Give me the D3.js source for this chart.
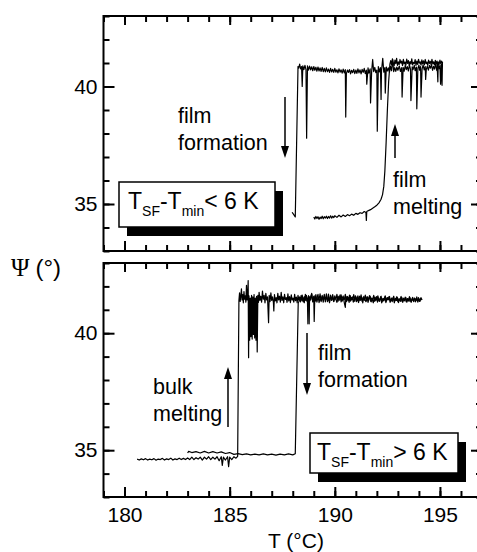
<!DOCTYPE html>
<html>
<head>
<meta charset="utf-8">
<script src="https://cdn.jsdelivr.net/npm/d3@7/dist/d3.min.js"></script>
<style>
body{margin:0;background:#fff;}
svg text{font-family:"Liberation Sans",Arial,sans-serif;fill:#000;}
</style>
</head>
<body>
<svg id="chart" width="477" height="552"></svg>
<script>
// axis values
var tempTicks = [180,185,190,195];
var tempMinor = [179,180,181,182,183,184,185,186,187,188,189,190,191,192,193,194,195,196,197];
var psiTicks = [35,40];
var psiMinor = [33,34,35,36,37,38,39,40,41,42,43];

// T (°C), Psi (°)
// upper panel: cooling run (film formation), from high T down
var topCooling = [
	[195.12,41.05],[195.1,40.05],[195.07,40.95],[195.03,40.1],[195.0,40.9],[194.95,40.75],[194.9,40.92],[194.85,40.68],
	[194.8,40.97],[194.75,40.74],[194.7,40.86],[194.65,40.69],[194.6,40.93],[194.55,40.78],[194.5,40.9],[194.45,40.7],
	[194.4,40.86],[194.35,40.73],[194.32,40.3],[194.3,40.85],[194.25,40.71],[194.2,40.92],[194.15,40.74],[194.1,39.55],
	[194.08,40.85],[194.03,40.69],[194.0,40.91],[193.95,40.77],[193.9,39.05],[193.88,40.83],[193.82,40.67],[193.78,40.9],
	[193.72,40.72],[193.68,40.84],[193.62,39.4],[193.6,40.73],[193.55,40.92],[193.5,40.66],[193.45,40.85],[193.4,40.72],
	[193.35,40.9],[193.3,40.65],[193.25,40.81],[193.2,39.55],[193.18,40.8],[193.12,40.64],[193.07,40.87],[193.0,40.69],
	[192.95,40.83],[192.9,40.64],[192.85,40.8],[192.8,40.63],[192.75,41.15],[192.7,40.67],[192.65,40.86],[192.6,40.61],
	[192.55,40.79],[192.5,40.66],[192.45,40.83],[192.4,39.72],[192.38,40.8],[192.33,40.61],[192.28,41.2],[192.22,40.66],
	[192.2,39.45],[192.17,40.8],[192.12,40.62],[192.07,40.85],[192.02,38.1],[192.0,40.7],[191.95,40.59],[191.9,40.81],
	[191.85,40.63],[191.8,41.15],[191.75,40.6],[191.7,39.3],[191.68,40.75],[191.62,40.57],[191.58,40.79],[191.52,40.1],
	[191.5,40.7],[191.45,40.55],[191.4,40.77],[191.35,40.6],[191.3,40.73],[191.25,40.54],[191.2,40.71],[191.15,40.58],
	[191.1,40.75],[191.05,40.56],[191.0,40.7],[190.95,40.55],[190.9,40.73],[190.85,40.59],[190.8,40.69],[190.75,40.54],
	[190.7,40.72],[190.65,40.6],[190.6,40.7],[190.55,40.55],[190.52,38.7],[190.5,40.72],[190.45,40.58],[190.4,40.74],
	[190.35,40.57],[190.3,40.71],[190.25,40.61],[190.2,40.75],[190.15,40.58],[190.1,40.71],[190.05,40.61],[190.0,40.77],
	[189.95,40.6],[189.9,40.73],[189.85,40.62],[189.8,40.77],[189.75,40.6],[189.7,40.74],[189.65,40.63],[189.6,40.79],
	[189.55,40.62],[189.5,40.77],[189.45,40.63],[189.4,40.81],[189.35,40.64],[189.3,40.79],[189.25,40.66],[189.2,40.83],
	[189.15,40.65],[189.1,40.82],[189.05,40.69],[189.0,40.85],[188.95,40.67],[188.9,40.84],[188.85,40.71],[188.8,40.87],
	[188.75,40.7],[188.7,40.88],[188.66,37.8],[188.63,40.72],[188.58,40.9],[188.53,40.72],[188.48,40.88],[188.45,40.0],
	[188.42,40.85],[188.37,40.75],[188.33,40.95],[188.28,40.78],[188.25,40.85],[188.12,34.45],[187.97,34.65]
];
// upper panel: heating run (film melting)
var topHeating = [
	[189.0,34.45],[189.05,34.36],[189.1,34.47],[189.15,34.38],[189.2,34.46],[189.25,34.35],[189.3,34.44],[189.35,34.38],
	[189.4,34.48],[189.45,34.37],[189.5,34.46],[189.55,34.4],[189.6,34.48],[189.65,34.38],[189.7,34.47],[189.75,34.4],
	[189.8,34.5],[189.85,34.4],[189.9,34.48],[189.95,34.42],[190.0,34.5],[190.1,34.43],[190.2,34.52],[190.3,34.45],
	[190.4,34.53],[190.5,34.47],[190.6,34.55],[190.7,34.5],[190.8,34.57],[190.9,34.52],[191.0,34.6],[191.1,34.56],
	[191.2,34.63],[191.3,34.6],[191.4,34.68],[191.48,34.64],[191.5,34.3],[191.52,34.68],[191.6,34.72],[191.7,34.76],
	[191.8,34.82],[191.9,34.88],[192.0,34.95],[192.1,35.05],[192.2,35.2],[192.27,35.4],[192.33,35.75],[192.38,36.4],
	[192.44,37.6],[192.5,39.0],[192.56,40.2],[192.62,40.95],
	[192.66,41.1],[192.7,40.92],[192.74,41.18],[192.78,41.0],[192.82,40.88],[192.86,41.12],[192.9,40.97],[192.94,41.2],
	[192.98,40.9],[193.02,41.05],[193.06,40.93],[193.1,41.15],[193.14,40.99],[193.18,41.08],[193.22,40.89],[193.26,41.16],
	[193.3,40.96],[193.34,41.04],[193.38,40.91],[193.42,41.17],[193.46,40.98],[193.5,41.1],[193.54,40.9],[193.58,41.06],
	[193.62,40.95],[193.66,41.18],[193.7,40.92],[193.74,41.03],[193.78,40.97],[193.82,41.14],[193.86,40.9],[193.9,41.08],
	[193.94,40.94],[193.98,41.16],[194.02,40.99],[194.06,41.05],[194.1,40.91],[194.14,41.13],[194.18,40.96],[194.22,41.09],
	[194.26,40.92],[194.3,41.15],[194.34,40.97],[194.38,41.04],[194.42,40.9],[194.46,41.12],[194.5,40.98],[194.54,41.07],
	[194.58,40.93],[194.62,41.16],[194.66,40.96],[194.7,41.05],[194.74,40.92],[194.78,41.11],[194.82,40.97],[194.86,41.08],
	[194.9,40.2],[194.92,41.05],[194.96,40.94],[195.0,41.12],[195.04,40.96],[195.08,41.08],[195.1,40.98]
];
// lower panel: heating run (bulk melting)
var bottomHeating = [
	[180.6,34.62],[180.7,34.58],[180.8,34.63],[180.9,34.59],[181.0,34.64],[181.1,34.58],[181.2,34.62],[181.3,34.59],
	[181.4,34.64],[181.5,34.57],[181.6,34.62],[181.7,34.6],[181.8,34.65],[181.9,34.58],[182.0,34.63],[182.1,34.6],
	[182.2,34.66],[182.3,34.58],[182.4,34.63],[182.5,34.6],[182.6,34.66],[182.7,34.6],[182.8,34.65],[182.9,34.6],
	[183.0,34.67],[183.1,34.6],[183.2,34.7],[183.3,34.6],[183.4,34.68],[183.5,34.62],[183.6,34.7],[183.7,34.58],
	[183.8,34.7],[183.9,34.62],[184.0,34.72],[184.1,34.6],[184.2,34.7],[184.3,34.62],[184.4,34.72],[184.5,34.55],
	[184.6,34.72],[184.65,34.35],[184.7,34.7],[184.8,34.58],[184.9,34.72],[184.95,34.3],[185.0,34.7],[185.1,34.6],
	[185.2,34.72],[185.3,34.66],[185.38,34.74],
	[185.44,41.4],[185.47,41.72],[185.5,41.36],[185.53,41.58],[185.56,41.9],[185.59,41.42],[185.62,41.65],[185.65,41.3],
	[185.68,41.78],[185.71,41.45],[185.74,41.6],[185.77,41.33],[185.8,42.05],[185.83,41.42],[185.86,41.7],[185.88,42.25],
	[185.9,38.95],[185.92,41.6],[185.95,39.7],[185.98,41.5],[186.01,39.85],[186.04,41.62],[186.07,39.75],[186.1,41.55],
	[186.13,39.95],[186.16,41.65],[186.19,39.8],[186.22,41.5],[186.25,39.7],[186.28,41.58],[186.31,39.2],[186.34,41.62],
	[186.37,41.32],[186.4,41.75],[186.44,41.4],[186.48,41.58],[186.52,41.33],[186.56,41.8],[186.6,41.45],[186.64,41.62],
	[186.68,41.3],[186.72,41.7],[186.76,41.42],[186.8,41.55],[186.85,40.45],[186.88,41.62],[186.92,41.35],[186.96,41.72],
	[187.0,41.4],[187.04,41.55],[187.08,41.32],[187.1,40.95],[187.13,41.65],[187.17,41.38],[187.21,41.52],[187.25,41.3],
	[187.29,41.7],[187.33,41.42],[187.37,41.58],[187.41,41.33],[187.45,41.75],[187.49,41.4],[187.53,41.55],[187.57,41.3],
	[187.61,41.66],[187.65,41.44],[187.69,41.52],[187.73,41.32],[187.77,41.68],[187.81,41.38],[187.85,41.56],[187.89,41.31],
	[187.93,41.64],[187.97,41.42],[188.01,41.5],[188.05,41.33],[188.09,41.66],[188.13,41.39],[188.17,41.54],[188.21,41.3],
	[188.25,41.62],[188.29,41.41],[188.33,41.55],[188.37,41.34],
	[188.4,41.62],[188.45,41.38],[188.5,41.51],[188.55,41.3],[188.6,41.66],[188.65,41.42],[188.7,41.33],[188.72,40.4],
	[188.75,41.6],[188.8,41.36],[188.85,41.55],[188.9,41.7],[188.95,41.34],[189.0,41.46],[189.02,40.5],[189.05,41.6],
	[189.1,41.37],[189.15,41.52],[189.2,41.66],[189.25,41.31],[189.3,41.48],[189.35,41.4],[189.4,41.62],[189.45,41.33],
	[189.5,41.57],[189.55,41.44],[189.6,41.68],[189.65,41.35],[189.7,41.5],[189.75,41.3],[189.8,41.63],[189.85,41.41],
	[189.9,41.55],[189.95,41.36],[190.0,41.6],[190.05,41.45],[190.1,41.32],[190.15,41.58],[190.2,41.4],[190.25,41.64],
	[190.3,41.34],[190.35,41.5],[190.4,41.59],[190.45,41.31],[190.5,41.1],[190.53,41.58],[190.58,41.38],[190.63,41.52],
	[190.68,41.32],[190.73,41.61],[190.78,41.42],[190.83,41.55],[190.88,41.33],[190.93,41.49],[190.98,41.6],[191.03,41.35],
	[191.08,41.47],[191.13,41.31],[191.18,41.58],[191.23,41.4],[191.28,41.54],[191.33,41.3],[191.38,41.57],[191.43,41.43],
	[191.48,41.35],[191.53,41.55],[191.58,41.32],[191.63,41.48],[191.68,41.58],[191.73,41.34],[191.78,41.46],[191.83,41.3],
	[191.88,41.54],[191.93,41.4],[191.98,41.56],[192.03,41.33],[192.08,41.5],[192.13,41.36],[192.18,41.55],[192.23,41.3],
	[192.28,41.47],[192.33,41.38],[192.38,41.55],[192.43,41.31],[192.48,41.5],[192.53,41.42],[192.58,41.56],[192.63,41.32],
	[192.68,41.46],[192.73,41.35],[192.78,41.53],[192.83,41.3],[192.88,41.49],[192.93,41.4],[192.98,41.52],[193.03,41.31],
	[193.08,41.46],[193.13,41.36],[193.18,41.53],[193.23,41.32],[193.28,41.45],[193.33,41.38],[193.38,41.52],[193.43,41.33],
	[193.48,41.48],[193.53,41.36],[193.58,41.51],[193.63,41.32],[193.68,41.46],[193.73,41.39],[193.78,41.5],[193.83,41.34],
	[193.88,41.47],[193.93,41.37],[193.98,41.52],[194.03,41.36],[194.08,41.48],[194.12,41.42]
];
// lower panel: cooling run (film formation), from high T down
var bottomCooling = [
	[194.15,41.42],[194.1,41.52],[194.05,41.36],[194.0,41.47],[193.95,41.33],[193.9,41.55],[193.85,41.4],[193.8,41.49],
	[193.75,41.35],[193.7,41.53],[193.65,41.43],[193.6,41.37],[193.55,41.56],[193.5,41.39],[193.45,41.48],[193.4,41.34],
	[193.35,41.54],[193.3,41.42],[193.25,41.5],[193.2,41.36],[193.15,41.57],[193.1,41.41],[193.05,41.47],[193.0,41.35],
	[192.95,41.56],[192.9,41.43],[192.85,41.38],[192.8,41.58],[192.75,41.4],[192.7,41.5],[192.65,41.36],[192.6,41.57],
	[192.55,41.44],[192.5,41.52],[192.45,41.37],[192.4,41.6],[192.35,41.42],[192.3,41.49],[192.25,41.35],[192.2,41.58],
	[192.15,41.45],[192.1,41.38],[192.05,41.6],[192.0,41.41],[191.95,41.53],[191.9,41.36],[191.85,41.62],[191.8,41.44],
	[191.75,41.5],[191.7,41.37],[191.65,41.61],[191.6,41.43],[191.55,41.55],[191.5,41.38],[191.45,41.63],[191.4,41.4],
	[191.35,41.52],[191.3,41.36],[191.25,41.64],[191.2,41.45],[191.15,41.39],[191.1,41.6],[191.05,41.42],[191.0,41.56],
	[190.95,41.36],[190.9,41.65],[190.85,41.44],[190.8,41.52],[190.75,41.37],[190.7,41.63],[190.65,41.41],[190.6,41.57],
	[190.55,41.35],[190.5,41.66],[190.45,41.43],[190.4,41.5],[190.35,41.37],[190.3,41.64],[190.25,41.42],[190.2,41.58],
	[190.15,41.36],[190.1,41.66],[190.05,41.45],[190.0,41.52],[189.95,41.35],[189.9,41.65],[189.85,41.4],[189.8,41.58],
	[189.75,41.36],[189.7,41.67],[189.65,41.44],[189.6,41.52],[189.55,41.34],[189.5,41.66],[189.45,41.41],[189.4,41.57],
	[189.35,41.35],[189.3,41.68],[189.25,41.43],[189.2,41.54],[189.15,41.33],[189.1,41.65],[189.05,41.4],[189.0,41.58],
	[188.95,41.36],[188.9,41.67],[188.85,41.42],[188.8,41.55],[188.78,40.4],[188.75,41.6],[188.7,41.35],[188.65,41.62],
	[188.6,41.4],[188.55,41.56],[188.5,41.34],[188.45,41.63],[188.4,41.41],[188.35,41.52],[188.3,41.36],[188.26,41.3],
	[188.12,34.85],[188.0,34.8],[187.8,34.84],[187.6,34.8],[187.4,34.83],[187.2,34.79],[187.0,34.83],[186.8,34.8],
	[186.6,34.84],[186.4,34.8],[186.2,34.83],[186.0,34.8],[185.8,34.84],[185.6,34.81],[185.4,34.85],[185.2,34.82],
	[185.0,34.9],[184.8,34.86],[184.6,34.93],[184.4,34.88],[184.2,34.94],[184.0,34.88],[183.8,34.95],[183.6,34.88],
	[183.4,34.94],[183.2,34.9],[183.05,34.95],[183.0,34.88]
];

var svg = d3.select("#chart");
var x = d3.scaleLinear().domain([179,197]).range([103.5,482]);

var panels = [
	{name:"top", y:d3.scaleLinear().domain([33,43]).range([251,16]), runs:[topCooling,topHeating], xLabels:false},
	{name:"bottom", y:d3.scaleLinear().domain([33,43]).range([497,263]), runs:[bottomHeating,bottomCooling], xLabels:true}
];

function styleAxis(g, size){
	g.select(".domain").remove();
	g.selectAll(".tick line").attr("stroke","#000").attr("stroke-width",2);
	g.selectAll("text").attr("font-size",size);
	g.attr("font-family",null);
}

panels.forEach(function(p){
	var y = p.y;
	var top = y.range()[1], bottom = y.range()[0];
	var g = svg.append("g").attr("class",p.name);

	g.append("clipPath").attr("id","clip-"+p.name)
		.append("rect").attr("x",x.range()[0]).attr("y",top)
		.attr("width",x.range()[1]-x.range()[0]).attr("height",bottom-top);

	var line = d3.line().x(function(d){return x(d[0]);}).y(function(d){return y(d[1]);});
	g.append("g").attr("clip-path","url(#clip-"+p.name+")")
		.selectAll("path").data(p.runs).enter().append("path")
		.attr("d",line).attr("fill","none").attr("stroke","#000")
		.attr("stroke-width",1.2).attr("stroke-linejoin","round");

	// minor + major ticks, all pointing inward
	var l = x.range()[0], r = x.range()[1];
	styleAxis(g.append("g").attr("transform","translate("+l+",0)")
		.call(d3.axisLeft(y).tickValues(psiMinor).tickSize(-6).tickFormat("")),21);
	styleAxis(g.append("g").attr("transform","translate("+l+",0)")
		.call(d3.axisLeft(y).tickValues(psiTicks).tickSize(-11).tickPadding(6).tickFormat(d3.format("d"))),21);
	styleAxis(g.append("g").attr("transform","translate("+r+",0)")
		.call(d3.axisRight(y).tickValues(psiMinor).tickSize(-6).tickFormat("")),21);
	styleAxis(g.append("g").attr("transform","translate("+r+",0)")
		.call(d3.axisRight(y).tickValues(psiTicks).tickSize(-11).tickFormat("")),21);
	styleAxis(g.append("g").attr("transform","translate(0,"+top+")")
		.call(d3.axisTop(x).tickValues(tempMinor).tickSize(-6).tickFormat("")),21);
	styleAxis(g.append("g").attr("transform","translate(0,"+top+")")
		.call(d3.axisTop(x).tickValues(tempTicks).tickSize(-9).tickFormat("")),21);
	styleAxis(g.append("g").attr("transform","translate(0,"+bottom+")")
		.call(d3.axisBottom(x).tickValues(tempMinor).tickSize(-6).tickFormat("")),21);
	styleAxis(g.append("g").attr("transform","translate(0,"+bottom+")")
		.call(d3.axisBottom(x).tickValues(tempTicks).tickSize(-10).tickPadding(10)
			.tickFormat(p.xLabels ? d3.format("d") : "")),21);

	g.append("rect").attr("x",l).attr("y",top).attr("width",r-l).attr("height",bottom-top)
		.attr("fill","none").attr("stroke","#000").attr("stroke-width",2);
});

// annotations
var ann = svg.append("g").attr("font-size",21.5);
function label(x0,y0,lines){
	lines.forEach(function(s,i){
		ann.append("text").attr("x",x0).attr("y",y0+i*27).text(s);
	});
}
function arrow(x0,yFrom,yTo){
	var dir = yTo > yFrom ? 1 : -1;
	ann.append("line").attr("x1",x0).attr("x2",x0).attr("y1",yFrom).attr("y2",yTo-dir*10)
		.attr("stroke","#000").attr("stroke-width",1.5);
	ann.append("path").attr("d","M"+(x0-4)+","+(yTo-dir*12)+"L"+(x0+4)+","+(yTo-dir*12)+"L"+x0+","+yTo+"Z")
		.attr("fill","#000");
}
function box(bx,by,bw,bh,tx,ty,rel){
	ann.append("rect").attr("x",bx+8).attr("y",by+9).attr("width",bw).attr("height",bh).attr("fill","#000");
	ann.append("rect").attr("x",bx).attr("y",by).attr("width",bw).attr("height",bh)
		.attr("fill","#fff").attr("stroke","#000").attr("stroke-width",1.5);
	var t = ann.append("text").attr("x",tx).attr("y",ty).attr("font-size",23);
	t.append("tspan").text("T");
	t.append("tspan").attr("font-size",14).attr("dy",7).text("SF");
	t.append("tspan").attr("dy",-7).text("-T");
	t.append("tspan").attr("font-size",14).attr("dy",7).text("min");
	t.append("tspan").attr("dy",-7).text(rel+" 6 K");
}

label(178,123,["film","formation"]);
arrow(285,97,158);
label(393,187,["film","melting"]);
arrow(395,158,124);
box(119,182,156,45,128,209,"<");

label(153,394,["bulk","melting"]);
arrow(228,427,367);
label(318,360,["film","formation"]);
arrow(307,333,395);
box(310,433,148,40,317,460,">");

// axis titles
var yt = svg.append("text").attr("x",11).attr("y",276);
yt.append("tspan").attr("font-family","'Liberation Serif','Times New Roman',serif").attr("font-size",25).text("Ψ");
yt.append("tspan").attr("font-size",24).attr("dx",6).text("(°)");
svg.append("text").attr("x",296).attr("y",548).attr("text-anchor","middle").attr("font-size",21).text("T (°C)");
</script>
</body>
</html>
